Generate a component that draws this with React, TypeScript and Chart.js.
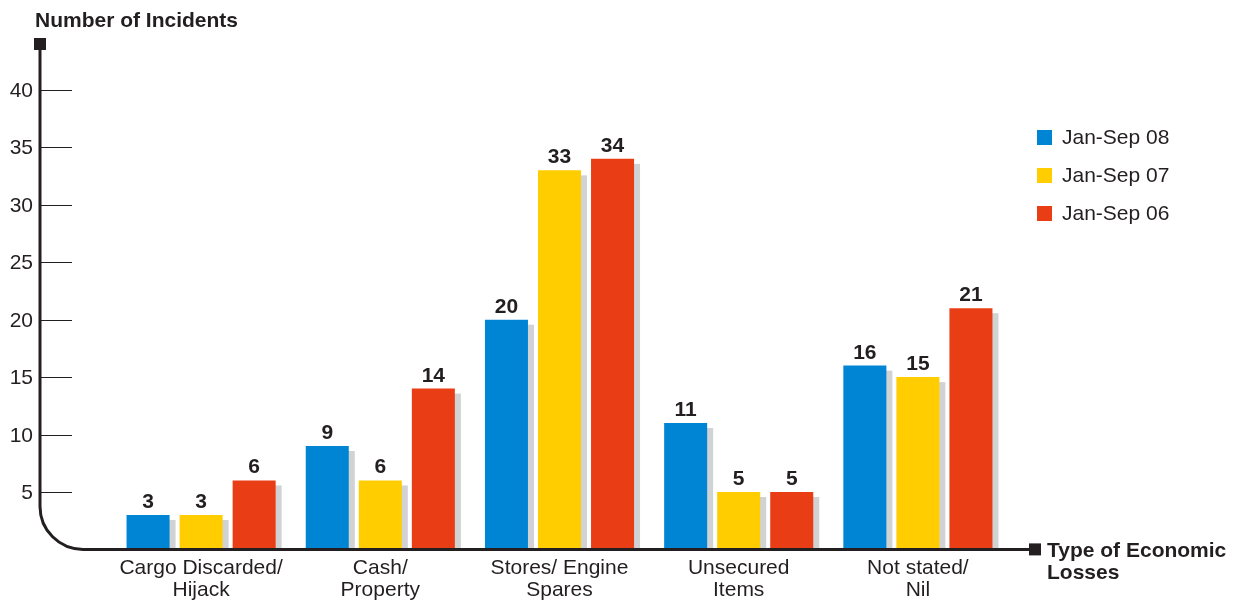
import React, { useEffect, useRef } from "react";
import { Chart, registerables } from "chart.js";

Chart.register(...registerables);

const categories: string[][] = [
  ["Cargo Discarded/", "Hijack"],
  ["Cash/", "Property"],
  ["Stores/ Engine", "Spares"],
  ["Unsecured", "Items"],
  ["Not stated/", "Nil"],
];
const seriesNames = ["Jan-Sep 08", "Jan-Sep 07", "Jan-Sep 06"];
const jan08 = [3, 9, 20, 11, 16];
const jan07 = [3, 6, 33, 5, 15];
const jan06 = [6, 14, 34, 5, 21];
const colors = ["#0085d5", "#ffcd00", "#e93d15"];
const yTicks = [5, 10, 15, 20, 25, 30, 35, 40];
const yTitle = "Number of Incidents";
const xTitle = ["Type of Economic", "Losses"];

const INK = "#231f20";
const FONT = "'Liberation Sans', Arial, sans-serif";
const FS = 21;

const decorPlugin = {
  id: "decor",
  beforeDatasetsDraw(chart: any) {
    const ctx = chart.ctx;
    ctx.save();
    ctx.fillStyle = "#d1d2d4";
    chart.data.datasets.forEach((_: any, di: number) => {
      const meta = chart.getDatasetMeta(di);
      meta.data.forEach((bar: any) => {
        const w = bar.width;
        const left = bar.x - w / 2 + 6;
        const top = bar.y + 5;
        const bottom = bar.base;
        if (bottom > top) ctx.fillRect(left, top, w, bottom - top);
      });
    });
    ctx.restore();
  },
  afterDatasetsDraw(chart: any) {
    const ctx = chart.ctx;
    const ys = chart.scales.y;
    const xs = chart.scales.x;
    const axisX = 40;
    const axisY = ys.getPixelForValue(0);
    const topY = 44;
    const endX = 1030;
    const r = 43;
    ctx.save();
    // value labels
    ctx.font = `bold ${FS}px ${FONT}`;
    ctx.fillStyle = INK;
    ctx.textAlign = "center";
    ctx.textBaseline = "alphabetic";
    chart.data.datasets.forEach((ds: any, di: number) => {
      const meta = chart.getDatasetMeta(di);
      meta.data.forEach((bar: any, i: number) => {
        ctx.fillText(String(ds.data[i]), bar.x, bar.y - 7);
      });
    });
    // y ticks
    ctx.strokeStyle = INK;
    ctx.lineWidth = 1;
    ctx.font = `${FS}px ${FONT}`;
    ctx.textAlign = "right";
    ctx.textBaseline = "middle";
    yTicks.forEach((v) => {
      const y = Math.round(ys.getPixelForValue(v)) + 0.5;
      ctx.beginPath();
      ctx.moveTo(axisX, y);
      ctx.lineTo(72, y);
      ctx.stroke();
      ctx.fillText(String(v), 33, y + 1);
    });
    // axis line with curved corner
    ctx.lineWidth = 3;
    ctx.beginPath();
    ctx.moveTo(axisX, topY);
    ctx.lineTo(axisX, axisY - r);
    ctx.arcTo(axisX, axisY, axisX + r, axisY, r);
    ctx.lineTo(endX, axisY);
    ctx.stroke();
    ctx.fillStyle = INK;
    ctx.fillRect(axisX - 6, topY - 6, 12, 12);
    ctx.fillRect(endX - 1, axisY - 6, 12, 12);
    // axis titles
    ctx.font = `bold ${FS}px ${FONT}`;
    ctx.textAlign = "left";
    ctx.textBaseline = "middle";
    ctx.fillText(yTitle, 35, 21);
    ctx.fillText(xTitle[0], 1047, 551);
    ctx.fillText(xTitle[1], 1047, 573);
    // category labels
    ctx.font = `${FS}px ${FONT}`;
    ctx.textAlign = "center";
    categories.forEach((lines, i) => {
      const x = xs.getPixelForValue(i);
      lines.forEach((line, li) => {
        ctx.fillText(line, x, 568 + li * 22);
      });
    });
    // legend
    ctx.textAlign = "left";
    seriesNames.forEach((name, i) => {
      const y = 137 + i * 38;
      ctx.fillStyle = colors[i];
      ctx.fillRect(1037, y - 7, 15, 15);
      ctx.fillStyle = INK;
      ctx.fillText(name, 1062, y + 1);
    });
    ctx.restore();
  },
};

export default function App() {
  const ref = useRef<HTMLCanvasElement | null>(null);
  useEffect(() => {
    if (!ref.current) return;
    const chart = new Chart(ref.current, {
      type: "bar",
      data: {
        labels: categories.map((c) => c.join(" ")),
        datasets: [jan08, jan07, jan06].map((d, i) => ({
          label: seriesNames[i],
          data: d,
          backgroundColor: colors[i],
          borderWidth: 0,
          categoryPercentage: 0.888,
          barPercentage: 0.811,
        })),
      },
      options: {
        responsive: false,
        animation: false,
        layout: { padding: { left: 111.5, right: 238.5, top: 44, bottom: 50.6 } },
        scales: {
          x: { display: false },
          y: { display: false, min: 0, max: 44 },
        },
        plugins: { legend: { display: false }, tooltip: { enabled: false } },
      },
      plugins: [decorPlugin],
    });
    return () => chart.destroy();
  }, []);
  return (
    <div style={{ position: "absolute", left: 0, top: 0, width: 1246, height: 600, background: "#fff" }}>
      <canvas ref={ref} width={1246} height={600} />
    </div>
  );
}
